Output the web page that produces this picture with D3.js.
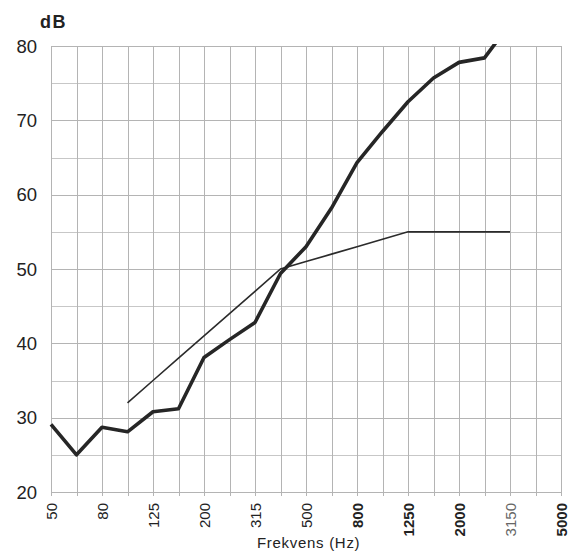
<!DOCTYPE html>
<html>
<head>
<meta charset="utf-8">
<script src="https://cdn.jsdelivr.net/npm/d3@7/dist/d3.min.js"></script>
<style>
  html, body { margin: 0; padding: 0; background: #ffffff; }
  svg { display: block; font-family: "Liberation Sans", Arial, sans-serif; }
</style>
</head>
<body>
<svg id="chart" width="570" height="555"></svg>
<script>
// One-third octave band centre frequencies (Hz)
const bands = ["50","63","80","100","125","160","200","250","315","400","500","630",
               "800","1000","1250","1600","2000","2500","3150","4000","5000"];
// Bands that carry a tick label
const labelledBands = ["50","80","125","200","315","500","800","1250","2000","3150","5000"];
// Measured sound reduction index (dB), 50 Hz .. 3150 Hz
const measured = [29.1, 25, 28.7, 28.1, 30.8, 31.2, 38.1, 40.5, 42.8, 49.4, 53, 58.2,
                  64.3, 68.5, 72.5, 75.7, 77.8, 78.4, 83];
// Shifted reference curve (dB), 100 Hz .. 3150 Hz
const refBands = ["100","125","160","200","250","315","400","500","630","800","1000",
                  "1250","1600","2000","2500","3150"];
const reference = [32, 35, 38, 41, 44, 47, 50, 51, 52, 53, 54, 55, 55, 55, 55, 55];
// Value axis
const yTicks = [20, 30, 40, 50, 60, 70, 80];
const yGrid = [20, 25, 30, 35, 40, 45, 50, 55, 60, 65, 70, 75, 80];

const svg = d3.select("#chart");
const plotL = 51, plotR = 561, plotT = 46, plotB = 492;

const x = d3.scalePoint().domain(bands).range([plotL, plotR]);
const y = d3.scaleLinear().domain([20, 80]).range([plotB, plotT]);

// grid
const grid = svg.append("g").attr("stroke", "#b4b4b4").attr("stroke-width", 1);
grid.selectAll("line.v").data(bands).join("line")
  .attr("class", "v")
  .attr("x1", d => Math.round(x(d)) + 0.5).attr("x2", d => Math.round(x(d)) + 0.5)
  .attr("y1", plotT).attr("y2", plotB + 4);
grid.selectAll("line.h").data(yGrid).join("line")
  .attr("class", "h")
  .attr("x1", plotL).attr("x2", plotR + 1)
  .attr("y1", d => Math.round(y(d)) + 0.5).attr("y2", d => Math.round(y(d)) + 0.5)
  .attr("stroke-opacity", d => d % 10 === 0 ? 1 : 0.75);

// y tick labels
svg.append("g").selectAll("text").data(yTicks).join("text")
  .attr("x", 37).attr("y", d => y(d))
  .attr("dy", "0.36em")
  .attr("text-anchor", "end")
  .attr("font-size", 18.5)
  .attr("fill", "#222")
  .text(d => d);

svg.append("text")
  .attr("x", 40).attr("y", 28)
  .attr("font-size", 18).attr("font-weight", "bold")
  .attr("letter-spacing", 1.5)
  .attr("fill", "#222")
  .text("dB");

// x tick labels, rotated
const boldLabels = new Set(["800", "1250", "2000", "5000"]);
svg.append("g").selectAll("text").data(labelledBands).join("text")
  .attr("transform", d => `translate(${x(d) + 5.5},503) rotate(-90)`)
  .attr("text-anchor", "end")
  .attr("font-size", 15)
  .attr("font-weight", d => boldLabels.has(d) ? "bold" : "normal")
  .attr("fill", d => d === "3150" ? "#666" : "#222")
  .text(d => d);

svg.append("text")
  .attr("x", 257).attr("y", 548)
  .attr("font-size", 15)
  .attr("letter-spacing", 0.7)
  .attr("fill", "#222")
  .text("Frekvens (Hz)");

// curves
svg.append("clipPath").attr("id", "plot")
  .append("rect").attr("x", plotL - 5).attr("y", plotT - 2)
  .attr("width", plotR - plotL + 10).attr("height", plotB - plotT + 6);

const line = d3.line().x(d => x(d[0])).y(d => y(d[1]));

svg.append("path")
  .datum(refBands.map((b, i) => [b, reference[i]]))
  .attr("fill", "none")
  .attr("stroke", "#2b2b2b")
  .attr("stroke-width", 1.6)
  .attr("d", line);

svg.append("path")
  .datum(measured.map((v, i) => [bands[i], v]))
  .attr("clip-path", "url(#plot)")
  .attr("fill", "none")
  .attr("stroke", "#262626")
  .attr("stroke-width", 3.6)
  .attr("stroke-linejoin", "round")
  .attr("d", line);
</script>
</body>
</html>
